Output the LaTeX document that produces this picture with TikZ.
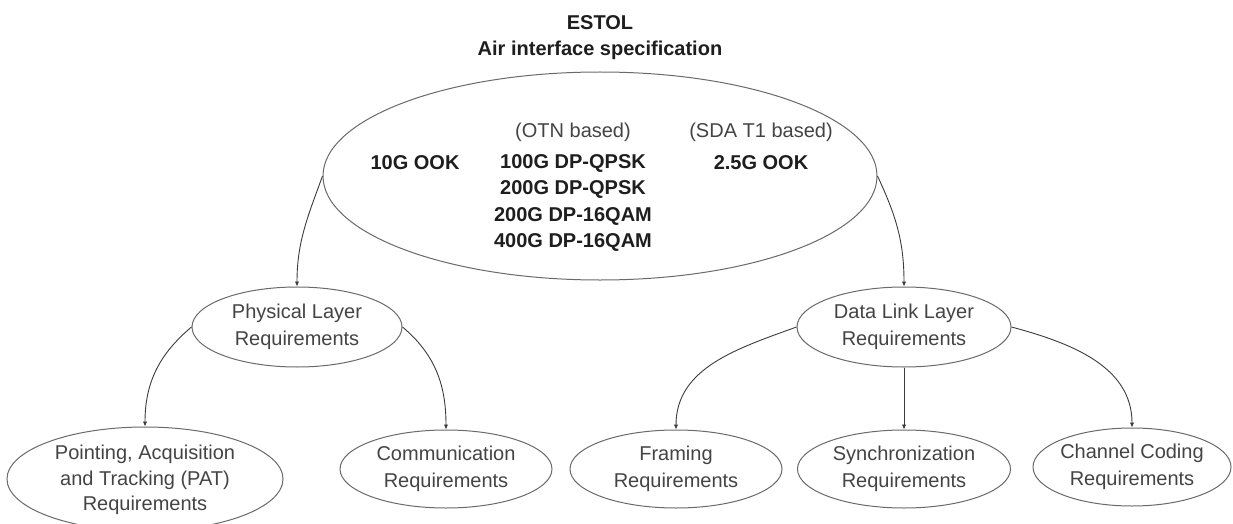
\documentclass[tikz,border=0pt]{standalone}
\usepackage{fontspec}
\setmainfont{Liberation Sans}
\usetikzlibrary{arrows.meta,shapes.geometric}
\definecolor{linegray}{HTML}{6A6A6A}
\definecolor{arrgray}{HTML}{3C3C3C}
\definecolor{txtgray}{HTML}{444444}
\definecolor{boldtxt}{HTML}{1E1E1E}
\begin{document}
\begin{tikzpicture}[x=1pt,y=1pt,
  ell/.style={draw=linegray,line width=1pt,ellipse,inner sep=0pt},
  lbl/.style={font=\fontsize{20}{26.5}\selectfont,text=txtgray,align=center,inner sep=0pt},
  bld/.style={font=\fontsize{20}{26.5}\selectfont\bfseries,text=boldtxt,align=center,inner sep=0pt},
  conn/.style={draw=arrgray,line width=0.9pt,-{Latex[length=5pt,width=4.5pt]}}]
\useasboundingbox (0,0) rectangle (1233,-524);
\clip (0,0) rectangle (1233,-524);
\fill[white] (0,0) rectangle (1233,-524);

% title
\node[bld] (t1) at (600,-23) {ESTOL};
\node[bld] (t2) at (600,-50) {Air interface specification};

% main ellipse
\node[ell,minimum width=554pt,minimum height=208pt] (big) at (600,-176) {};
\node[bld] (m10) at (415,-163) {10G OOK};
\node[lbl] (otn) at (573,-132) {(OTN based)};
\node[bld] (otnl) at (573,-203) {100G DP-QPSK\\200G DP-QPSK\\200G DP-16QAM\\400G DP-16QAM};
\node[lbl] (sda) at (761,-132) {(SDA T1 based)};
\node[bld] (m25) at (761,-163) {2.5G OOK};

% second level
\node[ell,minimum width=210pt,minimum height=80pt] (phys) at (297,-327) {};
\node[lbl] (physt) at (297,-327) {Physical Layer\\Requirements};
\node[ell,minimum width=214pt,minimum height=80pt] (dl) at (904,-327) {};
\node[lbl] (dlt) at (904,-327) {Data Link Layer\\Requirements};

% third level
\node[ell,minimum width=276pt,minimum height=104pt] (pat) at (145,-479) {};
\node[lbl,font=\fontsize{20}{25.5}\selectfont] (patt) at (145,-480) {Pointing, Acquisition\\and Tracking (PAT)\\Requirements};
\node[ell,minimum width=212pt,minimum height=78pt] (comm) at (446,-469) {};
\node[lbl] (commt) at (446,-469) {Communication\\Requirements};
\node[ell,minimum width=212pt,minimum height=78pt] (fram) at (676,-469) {};
\node[lbl] (framt) at (676,-469) {Framing\\Requirements};
\node[ell,minimum width=213pt,minimum height=78pt] (sync) at (904,-469) {};
\node[lbl] (synct) at (904,-469) {Synchronization\\Requirements};
\node[ell,minimum width=198pt,minimum height=78pt] (cc) at (1132,-467) {};
\node[lbl] (cct) at (1132,-467) {Channel Coding\\Requirements};

% connectors
\draw[conn] (big.west) to[out=250,in=90] (phys.north);
\draw[conn] (big.east) to[out=-65,in=90] (dl.north);
\draw[conn] (phys.west) to[out=220,in=90] (pat.north);
\draw[conn] (phys.east) to[out=-40,in=90] (comm.north);
\draw[conn] (dl.west) to[out=200,in=90] (fram.north);
\draw[conn] (dl.south) -- (sync.north);
\draw[conn] (dl.east) to[out=-15,in=90] (cc.north);
\end{tikzpicture}
\end{document}
